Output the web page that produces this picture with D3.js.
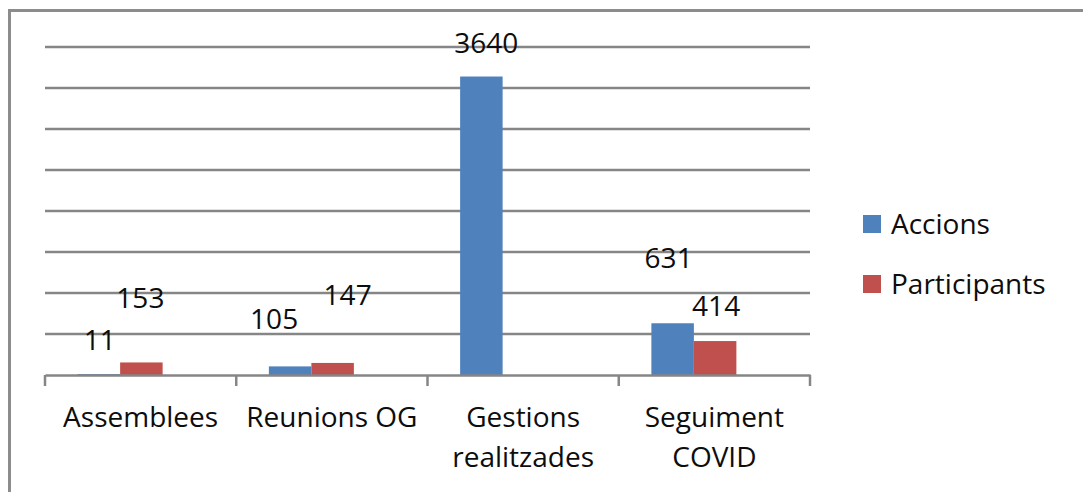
<!DOCTYPE html>
<html>
<head>
<meta charset="utf-8">
<script src="https://cdn.jsdelivr.net/npm/d3@7/dist/d3.min.js"></script>
<style>
  html, body { margin: 0; padding: 0; background: #ffffff; }
  svg { display: block; }
  text { font-family: "Open Sans", "Noto Sans", sans-serif; fill: #0d0d0d; }
</style>
</head>
<body>
<svg id="chart" width="1083" height="492"></svg>
<script>
// ---- data ----
const categories = [["Assemblees"], ["Reunions OG"], ["Gestions", "realitzades"], ["Seguiment", "COVID"]];
const seriesNames = ["Accions", "Participants"];
const accions = [11, 105, 3640, 631];
const participants = [153, 147, 0, 414];
const yTicks = [0, 500, 1000, 1500, 2000, 2500, 3000, 3500, 4000];
const showLabel = [[true, true], [true, true], [true, false], [true, true]];

// ---- layout (not data) ----
const colors = ["#4F81BD", "#C0504D"];
const labelNudge = [ // [dx, dy] per category per series, relative to default position
  [[1, 0], [-1, -30]],
  [[-16, -13], [15, -34]],
  [[5, 0], [0, 0]],
  [[-4, -31], [1, -1]]
];

const svg = d3.select("#chart");
const plot = { left: 45, right: 810, top: 47, bottom: 375 };
const catKeys = categories.map(c => c.join(" "));
const x = d3.scaleBand().domain(catKeys).range([plot.left, plot.right]).padding(0);
const y = d3.scaleLinear().domain([0, 4000]).range([plot.bottom, plot.top]);
const barW = 42.5;
const barShift = -20.5;
const x1 = d3.scaleBand().domain(seriesNames).range([0, barW * 2]);
const fs = 28;

// frame
svg.append("rect").attr("x", 9.5).attr("y", 10.5).attr("width", 1100).attr("height", 500)
  .attr("fill", "none").attr("stroke", "#8c8c8c").attr("stroke-width", 3);

// gridlines
svg.append("g").selectAll("line").data(yTicks.slice(1)).join("line")
  .attr("x1", plot.left).attr("x2", plot.right)
  .attr("y1", d => y(d)).attr("y2", d => y(d))
  .attr("stroke", "#868686").attr("stroke-width", 2.5);

// bars
const rows = catKeys.map((k, i) => ({ key: k, i, vals: [accions[i], participants[i]] }));
const groups = svg.append("g").selectAll("g").data(rows).join("g")
  .attr("transform", d => `translate(${x(d.key) + x.bandwidth() / 2 - barW + barShift},0)`);
groups.selectAll("rect").data(d => d.vals.map((v, s) => ({ v, s }))).join("rect")
  .attr("x", d => x1(seriesNames[d.s]))
  .attr("width", x1.bandwidth())
  .attr("y", d => y(d.v))
  .attr("height", d => y(0) - y(d.v))
  .attr("fill", d => colors[d.s]);

// x axis
const xAxis = d3.axisBottom(x).tickSize(0).tickFormat("");
const axG = svg.append("g").attr("transform", `translate(0,${plot.bottom})`).call(xAxis);
axG.select(".domain").attr("stroke", "#868686").attr("stroke-width", 2.5);
const boundaries = catKeys.map(k => x(k)).concat([plot.right]);
svg.append("g").selectAll("line").data(boundaries).join("line")
  .attr("x1", d => d).attr("x2", d => d)
  .attr("y1", plot.bottom).attr("y2", plot.bottom + 11)
  .attr("stroke", "#868686").attr("stroke-width", 2.5);

// category labels
const catLab = svg.append("g").selectAll("text").data(categories).join("text")
  .attr("text-anchor", "middle")
  .attr("font-size", fs)
  .attr("x", (d, i) => x(catKeys[i]) + x.bandwidth() / 2)
  .attr("y", 427);
catLab.selectAll("tspan").data(d => d).join("tspan")
  .attr("x", function () { return d3.select(this.parentNode).attr("x"); })
  .attr("dy", (d, j) => j === 0 ? 0 : 40)
  .text(d => d);

// value labels
rows.forEach(r => {
  r.vals.forEach((v, s) => {
    if (!showLabel[r.i][s]) return;
    const cx = x(r.key) + x.bandwidth() / 2 - barW + barShift + x1(seriesNames[s]) + x1.bandwidth() / 2;
    const nd = labelNudge[r.i][s];
    svg.append("text")
      .attr("text-anchor", "middle")
      .attr("font-size", fs)
      .attr("x", cx + nd[0])
      .attr("y", y(v) - 24 + nd[1])
      .text(v);
  });
});

// legend
const leg = svg.append("g").selectAll("g").data(seriesNames).join("g")
  .attr("transform", (d, i) => `translate(863,${215 + i * 60})`);
leg.append("rect").attr("width", 18).attr("height", 18).attr("fill", (d, i) => colors[i]);
leg.append("text").attr("x", 28).attr("y", 19).attr("font-size", fs).text(d => d);
</script>
</body>
</html>
